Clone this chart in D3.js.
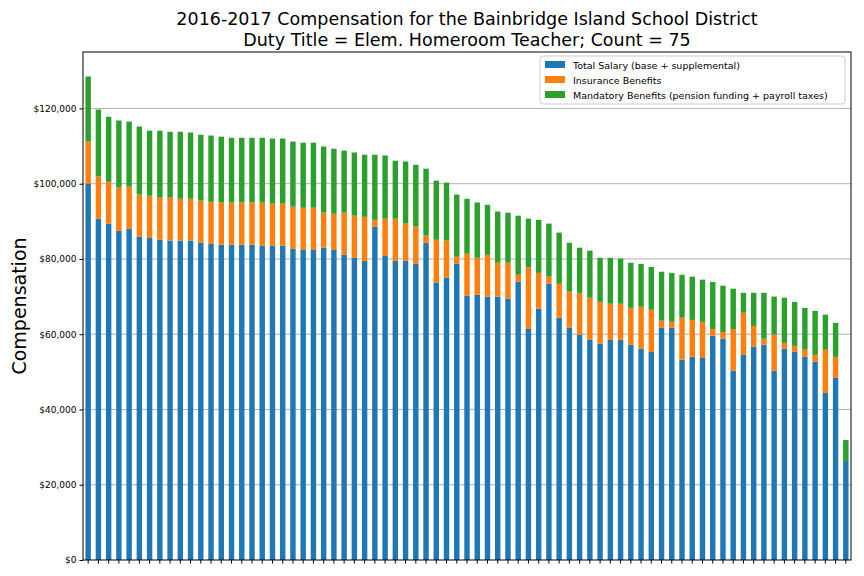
<!DOCTYPE html>
<html><head><meta charset="utf-8">
<script src="https://cdn.jsdelivr.net/npm/d3@7"></script>
<style>body{margin:0;background:#fff}text{font-family:"DejaVu Sans",sans-serif}</style>
</head><body><svg id="c" width="864" height="576"></svg>
<script>
const salary=[100000,90700,89400,87500,88000,85900,85600,85100,84900,84900,84900,84300,84000,83800,83800,83800,83800,83500,83500,83500,82700,82400,82400,83000,82400,81100,80300,79500,88600,80800,79500,79500,78700,84300,73700,75000,78700,70200,70500,70000,70000,69400,74000,61400,66800,73400,64400,61700,59900,58500,57500,58500,58500,57200,56100,55300,61700,61700,53200,54000,53700,59600,58800,50300,54500,56700,57200,50300,56100,55300,54000,52700,44400,48400,26300];
const insurance=[11200,11200,11100,11500,11200,11200,11200,11200,11400,11100,11100,11200,11200,11200,11200,11200,11200,11500,11200,11200,11200,11200,11200,9300,9600,11200,11200,11700,1800,9900,11200,9900,9900,1900,11400,9900,1900,11200,9800,11100,9000,9600,1800,16300,9500,1900,9000,9600,11100,11200,11100,9600,9600,9800,11200,11200,1900,1600,11200,9800,9600,1800,1800,11100,11200,5500,1600,9600,1600,1600,1900,1800,11500,5600,0];
const mandatory=[17300,17800,17300,17800,17300,18100,17300,17800,17500,17800,17600,17500,17600,17500,17200,17200,17200,17200,17300,17300,17300,17300,17300,17600,17300,16500,16800,16500,17300,16800,15400,16500,16400,17800,15700,15400,16500,14600,14700,13300,13600,13300,15700,13000,14100,14100,13600,13000,12000,12500,11700,12200,12000,12000,11400,11400,13000,13000,11400,11500,11200,12500,12300,10700,5300,8800,12200,10100,12000,11700,11100,11700,9300,9000,5600];
const seriesNames=["Total Salary (base + supplemental)","Insurance Benefits","Mandatory Benefits (pension funding + payroll taxes)"];
const colors=["#1f77b4","#ff7f0e","#2ca02c"];
const yTicks=[0,20000,40000,60000,80000,100000,120000];

const svg=d3.select("#c");
const L=83,R=851,T=52,B=560;
const data=salary.map((s,i)=>({i,s0:s,s1:insurance[i],s2:mandatory[i]}));
const x=d3.scaleBand().domain(data.map(d=>d.i)).range([L,R]).paddingInner(0.47).paddingOuter(0.24);
const y=d3.scaleLinear().domain([0,135000]).range([B,T]);
// grid
svg.append("g").selectAll("line").data(yTicks.slice(1)).join("line")
 .attr("x1",L).attr("x2",R).attr("y1",d=>y(d)).attr("y2",d=>y(d)).attr("stroke","#b0b0b0").attr("stroke-width",1);
const stack=d3.stack().keys(["s0","s1","s2"])(data);
svg.append("g").selectAll("g").data(stack).join("g").attr("fill",(d,k)=>colors[k])
 .selectAll("rect").data(d=>d).join("rect")
 .attr("x",d=>x(d.data.i)).attr("width",x.bandwidth())
 .attr("y",d=>y(d[1])).attr("height",d=>y(d[0])-y(d[1]));
const ya=svg.append("g").attr("transform",`translate(${L},0)`).call(d3.axisLeft(y).tickValues(yTicks).tickFormat(d3.format("$,")).tickSize(3.5).tickSizeOuter(0));
ya.selectAll("text").style("font-size","9px").attr("fill","#000");
const xa=svg.append("g").attr("transform",`translate(0,${B})`).call(d3.axisBottom(x).tickFormat("").tickSize(3.5).tickSizeOuter(0));
svg.selectAll(".domain").remove();
svg.append("rect").attr("x",L).attr("y",T).attr("width",R-L).attr("height",B-T).attr("fill","none").attr("stroke","#000").attr("stroke-width",1);
svg.append("text").attr("x",(L+R)/2).attr("y",25).attr("text-anchor","middle").style("font-size","17.5px").text("2016-2017 Compensation for the Bainbridge Island School District");
svg.append("text").attr("x",(L+R)/2).attr("y",46).attr("text-anchor","middle").style("font-size","17.5px").text("Duty Title = Elem. Homeroom Teacher; Count = 75");
svg.append("text").attr("transform",`translate(26,${(T+B)/2}) rotate(-90)`).attr("text-anchor","middle").style("font-size","19px").text("Compensation");
// legend
const lg=svg.append("g").attr("transform","translate(540,56)");
lg.append("rect").attr("width",305).attr("height",48).attr("rx",3).attr("fill","#fff").attr("fill-opacity",0.8).attr("stroke","#ccc");
seriesNames.forEach((n,k)=>{
 lg.append("rect").attr("x",5).attr("y",5+k*15).attr("width",20).attr("height",7).attr("fill",colors[k]);
 lg.append("text").attr("x",33).attr("y",12.5+k*15).style("font-size","9.5px").text(n);
});
</script></body></html>
